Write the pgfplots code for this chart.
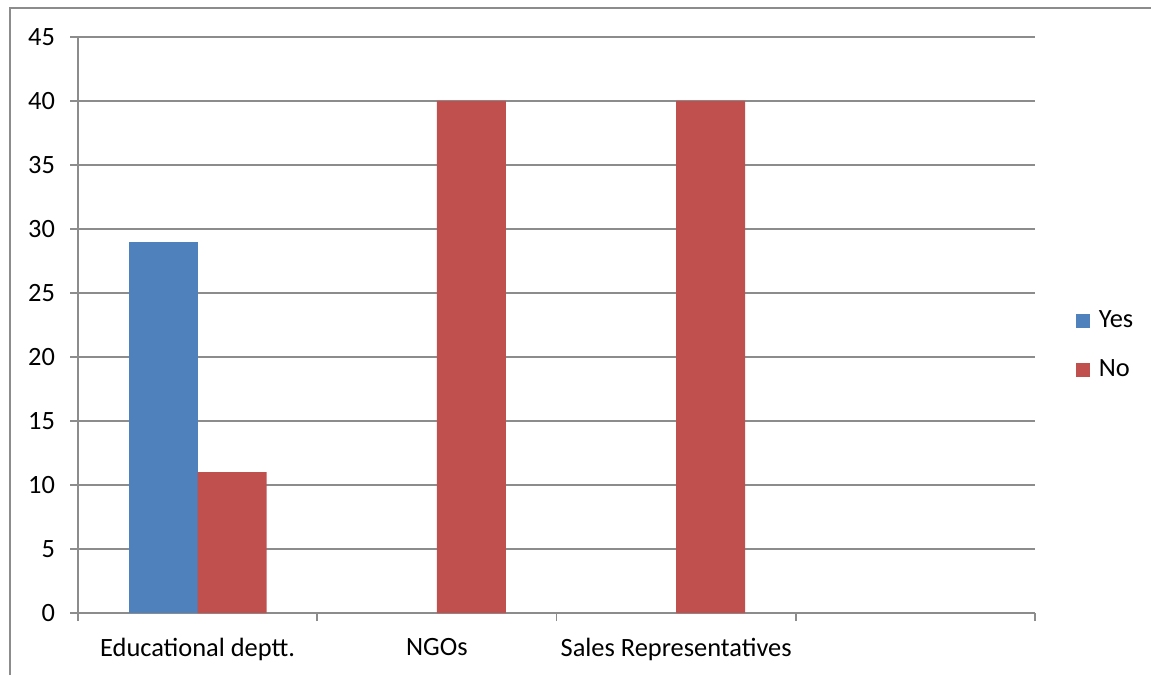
\documentclass[border=0pt]{standalone}
\usepackage{fontspec}
\setmainfont{Carlito}
\usepackage{pgfplots}
\pgfplotsset{compat=1.18}
\definecolor{cyes}{HTML}{4F81BD}
\definecolor{cno}{HTML}{C0504D}
\definecolor{cgrid}{HTML}{8C8C8C}
\begin{document}
\begin{tikzpicture}[x=0.5pt,y=0.5pt]
\useasboundingbox (0,0) rectangle (1151,675);
\draw[cgrid, line width=0.8pt] (10,0) -- (10,667) -- (1151,667);
\begin{axis}[
  at={(39pt,31pt)}, anchor=south west,
  scale only axis, width=478.5pt, height=288pt,
  font=\fontsize{13.2}{15}\selectfont,
  ymin=0, ymax=45, ytick={0,5,...,45},
  xmin=-0.5, xmax=3.5,
  xtick={0,1,2}, xticklabels={Educational deptt.,NGOs,Sales Representatives},
  major x tick style={draw=none},
  minor xtick={-0.5,0.5,1.5,2.5,3.5},
  minor x tick style={draw=cgrid, line width=0.8pt},
  minor tick length=4pt,
  axis x line*=bottom, axis y line*=left,
  axis line style={draw=cgrid, line width=0.8pt, -},
  ymajorgrids, grid style={draw=cgrid, line width=0.8pt},
  ytick style={draw=cgrid, line width=0.8pt}, tick align=outside, major tick length=4pt,
  yticklabel style={xshift=-4pt},
  xticklabel style={yshift=-5pt},
  /pgf/number format/assume math mode=true,
  ybar, bar width=0.2885,
  legend style={at={(1.036,0.465)}, anchor=west, draw=none, fill=none, row sep=10.5pt, font=\fontsize{13.2}{15}\selectfont,
    /tikz/every odd column/.append style={column sep=2.5pt}},
  legend cell align=left,
  legend image code/.code={\fill[#1] (0pt,-3.5pt) rectangle (7pt,3.5pt);},
]
\addplot[fill=cyes, draw=none, bar shift=-0.14425] coordinates {(0,29)};
\addplot[fill=cno, draw=none, bar shift=0.14425] coordinates {(0,11) (1,40) (2,40)};
\legend{Yes,No}
\end{axis}
\end{tikzpicture}
\end{document}
